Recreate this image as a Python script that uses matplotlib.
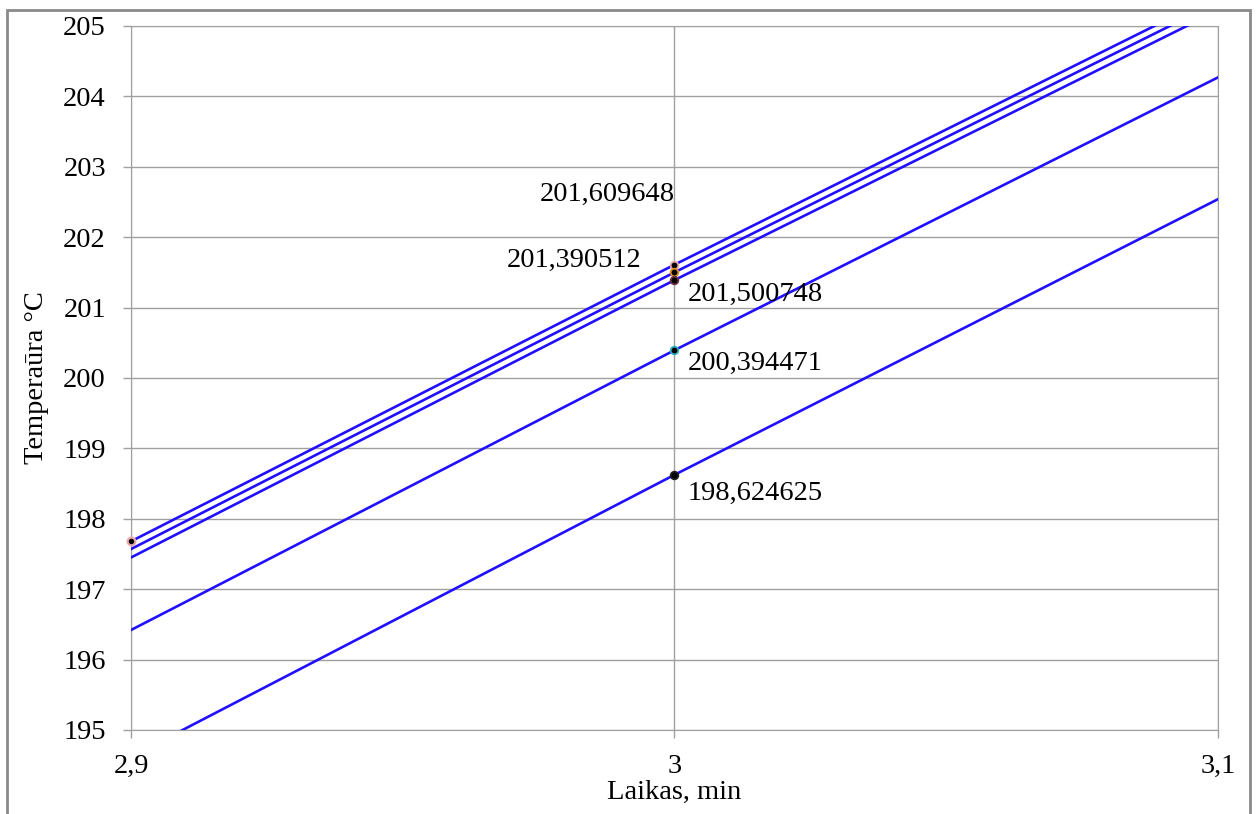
import matplotlib

matplotlib.use("Agg")
import matplotlib.pyplot as plt
from matplotlib.patches import Rectangle

plt.rcParams["font.family"] = ["Liberation Serif", "DejaVu Serif"]

# time points (min) and temperature curves
laikas = [2.9, 3.0, 3.1]
temp_1 = [197.68, 201.609648, 205.45]
temp_2 = [197.57, 201.500748, 205.34]
temp_3 = [197.45, 201.390512, 205.22]
temp_4 = [196.42, 200.394471, 204.27]
temp_5 = [194.62, 198.624625, 202.54]
curves = [temp_1, temp_2, temp_3, temp_4, temp_5]

# marked points at t = 3 min, with their labels
mark_t = 3.0
mark_vals = [201.609648, 201.500748, 201.390512, 200.394471, 198.624625]
mark_labels = ["201,609648", "201,500748", "201,390512", "200,394471", "198,624625"]
mark_edges = ["#e8a8a8", "#e08a20", "#6a3040", "#30b0c0", "#202020"]
label_offsets = [(0, 70, "right"), (13, -22, "left"), (-33, 20, "right"),
                 (13, -13, "left"), (13, -19, "left")]

start_t = 2.9
start_val = 197.68

FS = 20.5

fig = plt.figure(figsize=(12.59, 8.14), dpi=100)
ax = fig.add_axes([131 / 1259, 1 - 730 / 814, (1218 - 131) / 1259, (730 - 26) / 814])

for c in curves:
    ax.plot(laikas, c, color="#2010ff", lw=1.9, zorder=3)

ax.plot([start_t], [start_val], "o", ms=5.5, mfc="black", mec="#e8a8a8", mew=1.6, zorder=4, clip_on=False)
for v, lab, ec, (dx, dy, ha) in zip(mark_vals, mark_labels, mark_edges, label_offsets):
    ax.plot([mark_t], [v], "o", ms=5.5, mfc="black", mec=ec, mew=1.3, zorder=4)
    ax.annotate(lab, (mark_t, v), xytext=(dx, dy), textcoords="offset pixels",
                ha=ha, va="center", fontsize=FS)

ax.set_xlim(2.9, 3.1)
ax.set_ylim(195, 205)
ax.set_xticks([2.9, 3.0, 3.1])
ax.set_xticklabels(["2,9", "3", "3,1"])
ax.set_yticks(range(195, 206))
ax.grid(True, color="#a0a0a0", lw=1)
ax.set_axisbelow(True)
for s in ax.spines.values():
    s.set_color("#a0a0a0")
ax.tick_params(labelsize=FS, color="#a0a0a0", length=6, width=1)
ax.tick_params(axis="y", pad=12)
ax.tick_params(axis="x", pad=11)
ax.set_xlabel("Laikas, min", fontsize=FS, labelpad=1)
ax.set_ylabel("Temperaūra °C", fontsize=FS, labelpad=10)

# outer chart frame
fig.patches.append(Rectangle((7 / 1259, -0.01), (1250 - 7) / 1259, 1 - 10 / 814 + 0.01,
                             transform=fig.transFigure, fill=False, ec="#8a8a8a", lw=2))

fig.savefig("out.png", dpi=100)
